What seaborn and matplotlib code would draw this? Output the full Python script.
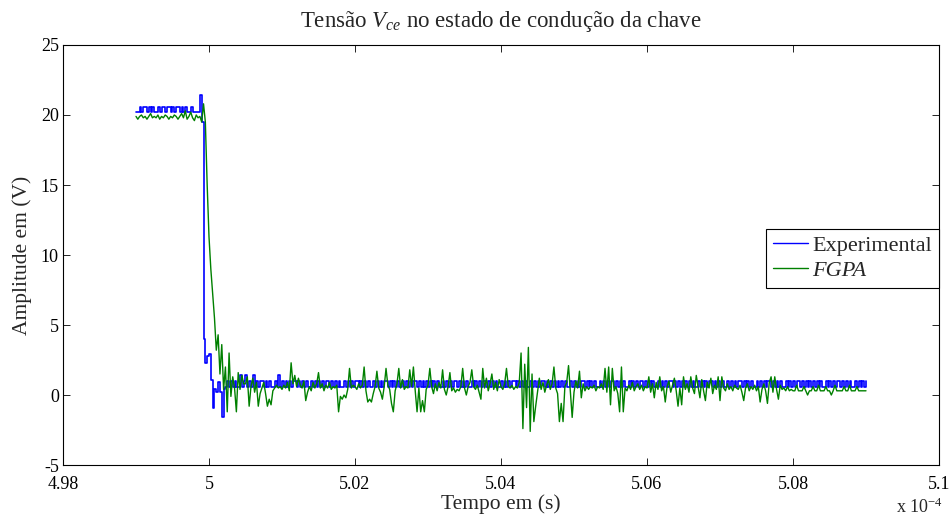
import numpy as np
import pandas as pd
import seaborn as sns
import matplotlib
matplotlib.use('Agg')
import matplotlib.pyplot as plt
from matplotlib.ticker import FuncFormatter

# amostragem: de 4.99e-4 s, passo de 25 ns
t0 = 4.99e-4
dt = 2.5e-8

experimental = [
    20.2, 20.2, 20.6, 20.2, 20.6, 20.6, 20.2, 20.6, 20.2, 20.6,
    20.2, 20.2, 20.6, 20.2, 20.6, 20.6, 20.2, 20.6, 20.6, 20.2,
    20.6, 20.2, 20.6, 20.6, 20.2, 20.6, 20.2, 20.6, 20.2, 20.2,
    20.6, 20.2, 20.2, 20.2, 20.2, 21.4, 19.5, 4.0, 2.3, 2.8,
    2.9, 1.1, -0.9, 0.4, 0.2, 0.9, 0.2, -1.6, 0.4, 0.6,
    1.0, 0.6, 1.0, 0.6, 1.0, 0.6, 0.6, 1.4, 0.6, 1.0,
    1.4, 0.6, 1.0, 0.6, 1.4, 0.6, 1.0, 0.6, 1.0, 1.0,
    0.6, 1.0, 0.6, 1.0, 0.6, 0.6, 1.0, 0.6, 1.4, 0.6,
    1.0, 0.6, 1.0, 0.6, 1.0, 0.6, 1.0, 1.0, 0.6, 1.0,
    0.6, 1.0, 0.6, 1.0, 0.6, 0.6, 1.0, 0.6, 1.0, 0.6,
    1.0, 0.6, 1.0, 0.6, 1.0, 1.0, 0.6, 1.0, 0.6, 1.0,
    0.6, 1.0, 0.6, 0.6, 1.0, 0.6, 1.0, 0.6, 1.0, 0.6,
    1.0, 1.0, 0.6, 1.0, 0.6, 1.0, 0.6, 1.0, 0.6, 0.6,
    1.0, 0.6, 1.0, 0.6, 1.0, 0.6, 1.0, 1.0, 0.6, 1.0,
    0.6, 1.0, 0.6, 1.0, 0.6, 0.6, 1.0, 0.6, 1.0, 0.6,
    1.0, 0.6, 1.0, 1.0, 0.6, 1.0, 0.6, 1.0, 0.6, 1.0,
    0.6, 1.0, 0.6, 1.0, 0.6, 1.0, 0.6, 0.6, 1.0, 0.6,
    1.0, 0.6, 1.0, 0.6, 1.0, 1.0, 0.6, 1.0, 0.6, 1.0,
    0.6, 1.0, 0.6, 0.6, 1.0, 0.6, 1.0, 0.6, 1.0, 0.6,
    1.0, 1.0, 0.6, 1.0, 0.6, 1.0, 0.6, 1.0, 0.6, 0.6,
    1.0, 0.6, 1.0, 0.6, 1.0, 0.6, 1.0, 1.0, 0.6, 1.0,
    0.6, 1.0, 0.6, 1.0, 0.6, 0.6, 1.0, 0.6, 1.0, 0.6,
    1.0, 0.6, 1.0, 1.0, 0.6, 1.0, 0.6, 1.0, 0.6, 1.0,
    0.6, 1.0, 0.6, 1.0, 0.6, 1.0, 0.6, 0.6, 1.0, 0.6,
    1.0, 0.6, 1.0, 0.6, 1.0, 1.0, 0.6, 1.0, 0.6, 1.0,
    0.6, 1.0, 0.6, 0.6, 1.0, 0.6, 1.0, 0.6, 1.0, 0.6,
    1.0, 1.0, 0.6, 1.0, 0.6, 1.0, 0.6, 1.0, 0.6, 0.6,
    1.0, 0.6, 1.0, 0.6, 1.0, 0.6, 1.0, 1.0, 0.6, 1.0,
    0.6, 1.0, 0.6, 1.0, 0.6, 0.6, 1.0, 0.6, 1.0, 0.6,
    1.0, 0.6, 1.0, 1.0, 0.6, 1.0, 0.6, 1.0, 0.6, 1.0,
    0.6, 1.0, 0.6, 1.0, 0.6, 1.0, 0.6, 0.6, 1.0, 0.6,
    1.0, 0.6, 1.0, 0.6, 1.0, 1.0, 0.6, 1.0, 0.6, 1.0,
    0.6, 1.0, 0.6, 0.6, 1.0, 0.6, 1.0, 0.6, 1.0, 0.6,
    1.0, 1.0, 0.6, 1.0, 0.6, 1.0, 0.6, 1.0, 0.6, 0.6,
    1.0, 0.6, 1.0, 0.6, 1.0, 0.6, 1.0, 1.0, 0.6, 1.0,
    0.6, 1.0, 0.6, 1.0, 0.6, 0.6, 1.0, 0.6, 1.0, 0.6,
    1.0, 0.6, 1.0, 1.0, 0.6, 1.0, 0.6, 1.0, 0.6, 1.0,
    0.6, 1.0, 0.6, 1.0, 0.6, 1.0, 0.6, 0.6, 1.0, 0.6,
    1.0, 0.6, 1.0, 0.6, 1.0, 1.0, 0.6, 1.0, 0.6, 1.0,
    0.6, 1.0, 0.6, 0.6, 1.0, 0.6, 1.0, 0.6, 1.0, 0.6,
    1.0,
]

fgpa = [
    19.9, 19.7, 19.9, 20.0, 19.8, 19.9, 19.7, 19.9, 20.1, 19.8,
    19.9, 19.8, 20.0, 19.7, 19.9, 19.8, 20.0, 19.9, 19.7, 19.9,
    19.8, 20.0, 19.9, 19.7, 19.9, 20.1, 19.8, 20.3, 19.7, 19.9,
    20.2, 19.8, 19.6, 20.0, 19.8, 19.9, 19.5, 20.8, 19.5, 15.0,
    11.3, 9.0, 7.2, 5.5, 3.2, 4.3, 1.5, 3.6, 0.4, 2.0,
    -1.2, 3.0, -0.1, 1.3, 0.5, -1.2, 1.6, 0.4, 1.4, 0.8,
    0.8, 1.3, -0.8, 0.6, 1.2, 0.2, 0.9, -0.8, 0.1, 0.5,
    0.9, 0.1, -0.8, -0.3, -0.7, 0.3, 0.5, 0.7, 0.5, 0.6,
    0.4, 0.7, 0.5, 0.9, 0.3, 2.3, 0.8, 1.4, 0.6, 1.2,
    0.7, 0.5, 1.0, -0.4, 0.2, 0.6, 0.3, 0.9, 0.5, 0.8,
    1.6, 0.5, 0.8, 0.3, 0.7, 0.5, 0.9, 0.4, 0.6, 0.5,
    0.7, -1.2, -0.1, -0.3, 0.0, -0.2, 0.4, 1.9, 0.5, 0.7,
    0.6, 0.4, 0.8, 0.5, 0.7, 2.0, 0.3, -0.5, -0.3, -0.5,
    0.1, 0.6, 1.7, 0.5, 0.2, -0.3, 0.6, 1.9, 0.7, 0.4,
    -0.6, -1.2, 0.3, 0.8, 1.9, 0.5, 1.1, 0.4, 0.6, 0.5,
    1.8, 0.6, 2.0, 0.3, -1.2, 0.5, -1.2, -0.4, -1.2, 0.4,
    0.7, 1.9, 0.6, 0.1, 0.8, 0.3, 0.9, 0.5, 1.8, 0.4,
    0.0, 0.6, 1.6, 0.3, 0.5, 0.2, 0.4, 0.3, 0.6, 1.9,
    0.5, 0.0, 0.6, 0.9, 1.8, 0.6, 0.4, 0.7, 0.2, -0.3,
    1.9, 0.5, 1.2, 0.3, 0.8, 1.5, 0.4, 0.9, 0.3, 1.1,
    0.6, 0.4, 0.8, 1.9, 0.6, 0.5, 0.7, 0.4, 0.6, 0.5,
    0.9, 3.0, -2.4, 2.2, -0.9, 3.4, -2.6, 1.5, -1.9, -0.8,
    0.2, 1.2, 0.4, 0.9, 0.2, 0.7, 1.1, 0.4, 0.8, 2.0,
    0.5, 0.1, -1.9, -0.6, -1.9, 0.6, 0.9, 2.1, 0.3, -1.6,
    0.2, 1.0, 0.5, 1.7, -0.2, 0.8, 0.3, 0.6, 0.4, 0.6,
    0.5, 0.7, 0.3, 0.6, 0.5, 0.8, 0.4, 1.9, 0.2, 2.0,
    -0.7, 1.9, 0.3, 0.6, 0.1, -1.2, 2.0, -1.2, 0.5, 0.3,
    0.7, 0.4, 0.9, 0.3, 0.6, 0.8, 0.4, 0.7, 0.3, 0.6,
    0.5, 1.3, 0.2, 0.8, -0.2, 0.9, 0.4, 1.3, 0.3, 0.6,
    -0.5, 0.6, 1.0, 0.2, 0.7, 1.2, 0.3, -0.8, 0.5, -0.7,
    1.3, 0.4, 0.8, 0.2, 1.3, 0.5, 0.1, 1.4, 0.6, -0.2,
    1.1, 0.3, -0.4, 0.9, 0.5, 1.2, 0.1, 0.7, 0.4, 1.3,
    -0.4, 1.3, 0.5, 0.3, 0.8, 0.4, 0.6, 0.3, 0.7, 0.5,
    0.4, 0.7, 0.2, -0.4, 0.5, 0.8, 0.3, 0.6, 0.4, 0.7,
    0.3, 0.6, -0.5, 0.4, 0.8, 0.3, -0.6, 0.9, 1.3, 0.2,
    1.3, 0.4, -0.3, 0.7, 0.4, 0.5, 0.3, 0.6, 0.3, 0.4,
    0.3, 0.3, 0.7, 0.3, 0.3, 0.3, 0.6, 0.3, 0.0, 0.3,
    0.3, 0.6, 0.3, 0.3, 0.7, 0.3, 0.3, 0.3, 0.6, 0.3,
    0.3, 0.0, 0.3, 0.7, 0.3, 0.3, 0.3, 0.3, 0.6, 0.3,
    0.3, 0.7, 0.3, 0.3, 0.3, 0.6, 0.3, 0.3, 0.3, 0.3,
    0.3,
]

xticks = [4.98, 5.0, 5.02, 5.04, 5.06, 5.08, 5.1]
yticks = [-5, 0, 5, 10, 15, 20, 25]

sns.set_style('ticks', {'xtick.direction': 'in', 'ytick.direction': 'in'})
plt.rcParams['font.family'] = ['Liberation Serif', 'DejaVu Serif']
plt.rcParams['mathtext.fontset'] = 'custom'
plt.rcParams['mathtext.rm'] = 'Liberation Serif'
plt.rcParams['mathtext.it'] = 'Liberation Serif:italic'

# tempo em unidades de 1e-4 s (como no eixo do matlab)
df_exp = pd.DataFrame({'t': (t0 + np.arange(len(experimental)) * dt) * 1e4,
                       'v': experimental})
df_fg = pd.DataFrame({'t': (t0 + np.arange(len(fgpa)) * dt) * 1e4,
                      'v': fgpa})

fig = plt.figure(figsize=(9.5, 5.17), dpi=100)
ax = fig.add_axes([63 / 950, 52 / 517, 876 / 950, 420 / 517])

# experimental vem do ADC -> degraus; FGPA como linha
sns.lineplot(data=df_exp, x='t', y='v', color='blue', lw=1.2,
             estimator=None, label='Experimental', ax=ax, drawstyle='steps-post')
sns.lineplot(data=df_fg, x='t', y='v', color='#008000', lw=1.0,
             estimator=None, label='FGPA', ax=ax)

ax.set_xlim(4.98, 5.1)
ax.set_ylim(-5, 25)
ax.set_xticks(xticks)
ax.set_yticks(yticks)
ax.xaxis.set_major_formatter(FuncFormatter(lambda v, p: '%g' % round(v, 4)))
ax.yaxis.set_major_formatter(FuncFormatter(lambda v, p: '%g' % v))
ax.tick_params(which='both', direction='in', top=True, right=True,
               length=5, width=0.6, labelsize=13, colors='black')
ax.tick_params(axis='x', pad=8)
ax.tick_params(axis='y', pad=3)
for s in ax.spines.values():
    s.set_visible(True)
    s.set_color('black')
    s.set_linewidth(0.8)

ax.set_xlabel('Tempo em (s)', fontsize=15.5, labelpad=1)
ax.set_ylabel('Amplitude em (V)', fontsize=15.5, labelpad=6)
ax.set_title('Tensão $V_{ce}$ no estado de condução da chave', fontsize=16.5, pad=13)
fig.text(943 / 950, 1 - 507 / 517, 'x 10$^{-4}$', ha='right', va='center', fontsize=13)

leg = ax.legend(loc='upper right', bbox_to_anchor=(1.0, 0.562), borderaxespad=0,
                fancybox=False, edgecolor='black', framealpha=1, fontsize=16,
                handlelength=1.6, borderpad=0.3, labelspacing=0.2, handletextpad=0.2)
leg.get_frame().set_linewidth(0.8)
for h in leg.get_lines():
    h.set_linewidth(1.0)
leg.get_texts()[1].set_fontstyle('italic')

fig.savefig('out.png', dpi=100)
